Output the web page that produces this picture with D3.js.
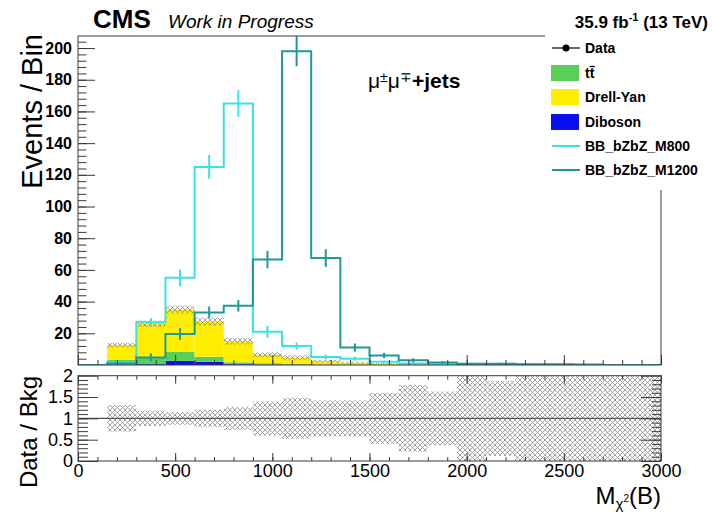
<!DOCTYPE html>
<html>
<head>
<meta charset="utf-8">
<script src="https://cdn.jsdelivr.net/npm/d3@7"></script>
<style>
  body { margin: 0; background: #fff; }
  svg { display: block; font-family: "Liberation Sans", Arial, Helvetica, sans-serif; }
</style>
</head>
<body>
<svg id="chart" width="712" height="515"></svg>
<script>
// bins of 150 GeV from 0 to 3000
var binEdges = [0, 150, 300, 450, 600, 750, 900, 1050, 1200, 1350, 1500,
  1650, 1800, 1950, 2100, 2250, 2400, 2550, 2700, 2850, 3000];

// background stack (events / bin)
var dibosonVals = [0, 0.3, 0.5, 2.7, 2.0, 0.5, 0.3, 0.2, 0.1, 0.1, 0, 0, 0, 0, 0, 0, 0, 0, 0, 0];
var ttbarVals = [0, 3.0, 4.0, 5.7, 3.2, 1.2, 0.8, 0.5, 0.3, 0.2, 0.1, 0.1, 0, 0, 0, 0, 0, 0, 0, 0];
var dyVals = [0, 9.2, 21.5, 26.6, 22.3, 13.3, 5.4, 4.1, 1.9, 1.2, 0.7, 0.4, 0.3, 0.1, 0.2, 0.05, 0.05, 0.05, 0.05, 0.05];
var bkgErr = [0, 1.5, 2.0, 2.5, 2.5, 2.0, 1.5, 1.3, 0.8, 0.6, 0.5, 0.4, 0.3, 0.15, 0.2, 0.06, 0.06, 0.06, 0.06, 0.06];

// signals
var m800Vals = [0, 1.5, 27, 55, 125, 165, 21, 12, 5, 4, 2, 1, 0.5, 0.3, 0.2, 0.1, 0, 0, 0, 0];
var m800Err = [0, 1, 2.6, 5.3, 7.5, 8.4, 3.7, 2.2, 1.5, 1.3, 0.8, 0.6, 0.4, 0.3, 0.2, 0.2, 0, 0, 0, 0];
var m1200Vals = [0, 1, 4.8, 19.6, 33.2, 37.4, 66.5, 198, 67.5, 11, 6, 3, 1.5, 0.8, 0.8, 0.4, 0.4, 0.3, 0, 0];
var m1200Err = [0, 1, 2.5, 3.7, 3.7, 3.7, 5.5, 9.5, 5.6, 2.6, 1.7, 1.3, 0.9, 0.6, 0.6, 0.4, 0.4, 0.4, 0, 0];

// relative uncertainty in the ratio pad
var ratioErr = [0, 0.31, 0.18, 0.15, 0.2, 0.27, 0.4, 0.48, 0.42, 0.42, 0.6, 0.78, 0.63, 1.2, 0.88, 1.2, 1.2, 1.2, 1.2, 1.2];

var mainTicks = [20, 40, 60, 80, 100, 120, 140, 160, 180, 200];
var ratioTicks = [0, 0.5, 1, 1.5, 2];
var xTicks = [0, 500, 1000, 1500, 2000, 2500, 3000];

var legendLabels = ['Data', 'tt', 'Drell-Yan', 'Diboson', 'BB_bZbZ_M800', 'BB_bZbZ_M1200'];

var col = {
  ttbar: '#58d058',
  dy: '#ffee00',
  diboson: '#0a0ff0',
  m800: '#38e3e6',
  m1200: '#1f9898',
  frame: '#3a3a3a'
};

var svg = d3.select('#chart');

var x = d3.scaleLinear().domain([0, 3000]).range([78, 661]);
var y = d3.scaleLinear().domain([0, 207.6]).range([365, 36]);
var yr = d3.scaleLinear().domain([0, 2]).range([461, 375.7]);

var defs = svg.append('defs');
var pat = defs.append('pattern')
  .attr('id', 'hatch')
  .attr('patternUnits', 'userSpaceOnUse')
  .attr('width', 5).attr('height', 5);
pat.append('path')
  .attr('d', 'M-1,-1L6,6M-1,6L6,-1')
  .attr('stroke', '#8c8c8c')
  .attr('stroke-width', 0.8);

defs.append('clipPath').attr('id', 'clipMain').append('rect')
  .attr('x', 78).attr('y', 36).attr('width', 583).attr('height', 329);
defs.append('clipPath').attr('id', 'clipRatio').append('rect')
  .attr('x', 78).attr('y', 375.7).attr('width', 583).attr('height', 85.3);

// ---------- main pad ----------
var main = svg.append('g').attr('clip-path', 'url(#clipMain)');

var rows = dibosonVals.map(function (d, i) {
  return { i: i, diboson: d, ttbar: ttbarVals[i], dy: dyVals[i] };
});
var series = d3.stack().keys(['diboson', 'ttbar', 'dy'])(rows);

series.forEach(function (s) {
  main.append('g').selectAll('rect')
    .data(s.filter(function (d) { return d[1] - d[0] > 0; }))
    .enter().append('rect')
    .attr('fill', col[s.key])
    .attr('x', function (d) { return x(binEdges[d.data.i]); })
    .attr('width', function (d) { return x(binEdges[d.data.i + 1]) - x(binEdges[d.data.i]); })
    .attr('y', function (d) { return y(d[1]); })
    .attr('height', function (d) { return y(d[0]) - y(d[1]); });
});

var totals = series[series.length - 1].map(function (d) { return d[1]; });

main.append('g').selectAll('rect')
  .data(totals.map(function (t, i) { return { i: i, t: t, e: bkgErr[i] }; })
    .filter(function (d) { return d.t > 0; }))
  .enter().append('rect')
  .attr('fill', 'url(#hatch)')
  .attr('x', function (d) { return x(binEdges[d.i]); })
  .attr('width', function (d) { return x(binEdges[d.i + 1]) - x(binEdges[d.i]); })
  .attr('y', function (d) { return y(d.t + d.e); })
  .attr('height', function (d) { return y(Math.max(0, d.t - d.e)) - y(d.t + d.e); });

function stepPoints(vals) {
  var pts = [];
  vals.forEach(function (v, i) {
    pts.push([binEdges[i], v]);
    pts.push([binEdges[i + 1], v]);
  });
  return pts;
}

var stepLine = d3.line()
  .x(function (p) { return x(p[0]); })
  .y(function (p) { return y(p[1]); });

function drawSignal(vals, errs, color) {
  main.append('path')
    .attr('d', stepLine(stepPoints(vals)))
    .attr('fill', 'none')
    .attr('stroke', color)
    .attr('stroke-width', 2);
  main.append('g').selectAll('line')
    .data(vals.map(function (v, i) { return { i: i, v: v, e: errs[i] }; })
      .filter(function (d) { return d.v > 0 && d.e > 0; }))
    .enter().append('line')
    .attr('x1', function (d) { return x((binEdges[d.i] + binEdges[d.i + 1]) / 2); })
    .attr('x2', function (d) { return x((binEdges[d.i] + binEdges[d.i + 1]) / 2); })
    .attr('y1', function (d) { return y(d.v - d.e); })
    .attr('y2', function (d) { return y(d.v + d.e); })
    .attr('stroke', color)
    .attr('stroke-width', 2);
}
drawSignal(m800Vals, m800Err, col.m800);
drawSignal(m1200Vals, m1200Err, col.m1200);

// frame + axes of the main pad
svg.append('rect')
  .attr('x', 78).attr('y', 36).attr('width', 583).attr('height', 329)
  .attr('fill', 'none').attr('stroke', col.frame).attr('stroke-width', 1);

function styleAxis(g) {
  g.select('.domain').remove();
  g.selectAll('line').attr('stroke', col.frame);
}

function plain(d) { return String(d); }

svg.append('g').attr('transform', 'translate(78,0)')
  .call(d3.axisLeft(y).tickValues(d3.range(4, 207, 4)).tickSize(-8.5).tickFormat(''))
  .call(styleAxis);
svg.append('g').attr('transform', 'translate(78,0)')
  .call(d3.axisLeft(y).tickValues(mainTicks).tickSize(-17).tickPadding(6).tickFormat(plain))
  .call(styleAxis)
  .selectAll('text')
  .attr('font-size', 16).attr('font-weight', 'bold').attr('fill', '#000')
  .attr('font-family', '"Liberation Sans", Arial, sans-serif');

svg.append('g').attr('transform', 'translate(0,365)')
  .call(d3.axisBottom(x).tickValues(d3.range(0, 3001, 100)).tickSize(-5).tickFormat(''))
  .call(styleAxis);
svg.append('g').attr('transform', 'translate(0,365)')
  .call(d3.axisBottom(x).tickValues(xTicks).tickSize(-10).tickFormat(''))
  .call(styleAxis);

// ---------- ratio pad ----------
var ratio = svg.append('g').attr('clip-path', 'url(#clipRatio)');

ratio.append('g').selectAll('rect')
  .data(ratioErr.map(function (e, i) { return { i: i, e: e }; })
    .filter(function (d) { return d.e > 0; }))
  .enter().append('rect')
  .attr('fill', 'url(#hatch)')
  .attr('x', function (d) { return x(binEdges[d.i]); })
  .attr('width', function (d) { return x(binEdges[d.i + 1]) - x(binEdges[d.i]); })
  .attr('y', function (d) { return yr(Math.min(2, 1 + d.e)); })
  .attr('height', function (d) { return yr(Math.max(0, 1 - d.e)) - yr(Math.min(2, 1 + d.e)); });

ratio.append('line')
  .attr('x1', x(0)).attr('x2', x(3000))
  .attr('y1', yr(1)).attr('y2', yr(1))
  .attr('stroke', '#555').attr('stroke-width', 1.2);

svg.append('rect')
  .attr('x', 78).attr('y', 375.7).attr('width', 583).attr('height', 85.3)
  .attr('fill', 'none').attr('stroke', col.frame).attr('stroke-width', 1);

svg.append('g').attr('transform', 'translate(78,0)')
  .call(d3.axisLeft(yr).tickValues(d3.range(0.1, 2, 0.1)).tickSize(-10).tickFormat(''))
  .call(styleAxis);
svg.append('g').attr('transform', 'translate(78,0)')
  .call(d3.axisLeft(yr).tickValues(ratioTicks).tickSize(-20).tickPadding(5).tickFormat(plain))
  .call(styleAxis)
  .selectAll('text')
  .attr('font-size', 18).attr('fill', '#000')
  .attr('font-family', '"Liberation Sans", Arial, sans-serif');
svg.append('g').attr('transform', 'translate(661,0)')
  .call(d3.axisRight(yr).tickValues(d3.range(0.1, 2, 0.1)).tickSize(-9).tickFormat(''))
  .call(styleAxis);
svg.append('g').attr('transform', 'translate(661,0)')
  .call(d3.axisRight(yr).tickValues(ratioTicks).tickSize(-20).tickFormat(''))
  .call(styleAxis);

svg.append('g').attr('transform', 'translate(0,375.7)')
  .call(d3.axisTop(x).tickValues(d3.range(0, 3001, 100)).tickSize(-4).tickFormat(''))
  .call(styleAxis);
svg.append('g').attr('transform', 'translate(0,375.7)')
  .call(d3.axisTop(x).tickValues(xTicks).tickSize(-8).tickFormat(''))
  .call(styleAxis);
svg.append('g').attr('transform', 'translate(0,461)')
  .call(d3.axisBottom(x).tickValues(d3.range(0, 3001, 100)).tickSize(-4).tickFormat(''))
  .call(styleAxis);
svg.append('g').attr('transform', 'translate(0,461)')
  .call(d3.axisBottom(x).tickValues(xTicks).tickSize(-8).tickPadding(3).tickFormat(plain))
  .call(styleAxis)
  .selectAll('text')
  .attr('font-size', 18).attr('fill', '#000')
  .attr('font-family', '"Liberation Sans", Arial, sans-serif');

// ---------- legend ----------
svg.append('rect')
  .attr('x', 545).attr('y', 31).attr('width', 167).attr('height', 159)
  .attr('fill', '#fff');

var legY = [48, 73, 97, 122, 146, 170];
var leg = svg.append('g');
legendLabels.forEach(function (lab, i) {
  var cy = legY[i];
  if (i === 0) {
    leg.append('line').attr('x1', 552).attr('x2', 580).attr('y1', cy).attr('y2', cy)
      .attr('stroke', '#000').attr('stroke-width', 1.2);
    leg.append('circle').attr('cx', 566).attr('cy', cy).attr('r', 3.5).attr('fill', '#000');
  } else if (i <= 3) {
    var c = [col.ttbar, col.dy, col.diboson][i - 1];
    leg.append('rect').attr('x', 551).attr('y', cy - 8).attr('width', 28).attr('height', 16)
      .attr('fill', c);
  } else {
    leg.append('line').attr('x1', 552).attr('x2', 580).attr('y1', cy).attr('y2', cy)
      .attr('stroke', i === 4 ? col.m800 : col.m1200).attr('stroke-width', 2);
  }
  var t = leg.append('text')
    .attr('x', 585).attr('y', cy + 5)
    .attr('font-size', 14).attr('font-weight', 'bold')
    .text(lab);
  if (i === 1) {
    // bar over the second t
    var node = t.node();
    var p = node.getStartPositionOfChar(1);
    var w = node.getSubStringLength(1, 1);
    leg.append('line')
      .attr('x1', p.x).attr('x2', p.x + w + 0.5)
      .attr('y1', cy - 6.5).attr('y2', cy - 6.5)
      .attr('stroke', '#000').attr('stroke-width', 1.3);
  }
});

// ---------- labels ----------
svg.append('text').attr('x', 93).attr('y', 28)
  .attr('font-size', 26).attr('font-weight', 'bold').text('CMS');
svg.append('text').attr('x', 168).attr('y', 28)
  .attr('font-size', 19).attr('font-style', 'italic').text('Work in Progress');

var lumi = svg.append('text').attr('x', 708).attr('y', 28)
  .attr('text-anchor', 'end').attr('font-size', 17).attr('font-weight', 'bold');
lumi.append('tspan').text('35.9 fb');
lumi.append('tspan').attr('font-size', 11).attr('dy', -7).text('-1');
lumi.append('tspan').attr('dy', 7).text(' (13 TeV)');

var chan = svg.append('text').attr('x', 368).attr('y', 88).attr('font-size', 21);
chan.append('tspan').text('\u03bc');
chan.append('tspan').attr('font-size', 14).attr('dy', -6).text('\u00b1');
chan.append('tspan').attr('dy', 6).text('\u03bc');
chan.append('tspan').attr('font-size', 14).attr('dy', -6).text('\u2213');
chan.append('tspan').attr('dy', 6).attr('font-weight', 'bold').text('+jets');

svg.append('text')
  .attr('transform', 'translate(42,34) rotate(-90)')
  .attr('text-anchor', 'end').attr('font-size', 29)
  .text('Events / Bin');
svg.append('text')
  .attr('transform', 'translate(37,376) rotate(-90)')
  .attr('text-anchor', 'end').attr('font-size', 24)
  .text('Data / Bkg');

var xt = svg.append('text').attr('x', 661).attr('y', 504)
  .attr('text-anchor', 'end').attr('font-size', 24);
xt.append('tspan').text('M');
xt.append('tspan').attr('font-size', 15).attr('dy', 5).text('\u03c7');
xt.append('tspan').attr('font-size', 10).attr('dy', -7).text('2');
xt.append('tspan').attr('dy', 2).text('(B)');
</script>
</body>
</html>
